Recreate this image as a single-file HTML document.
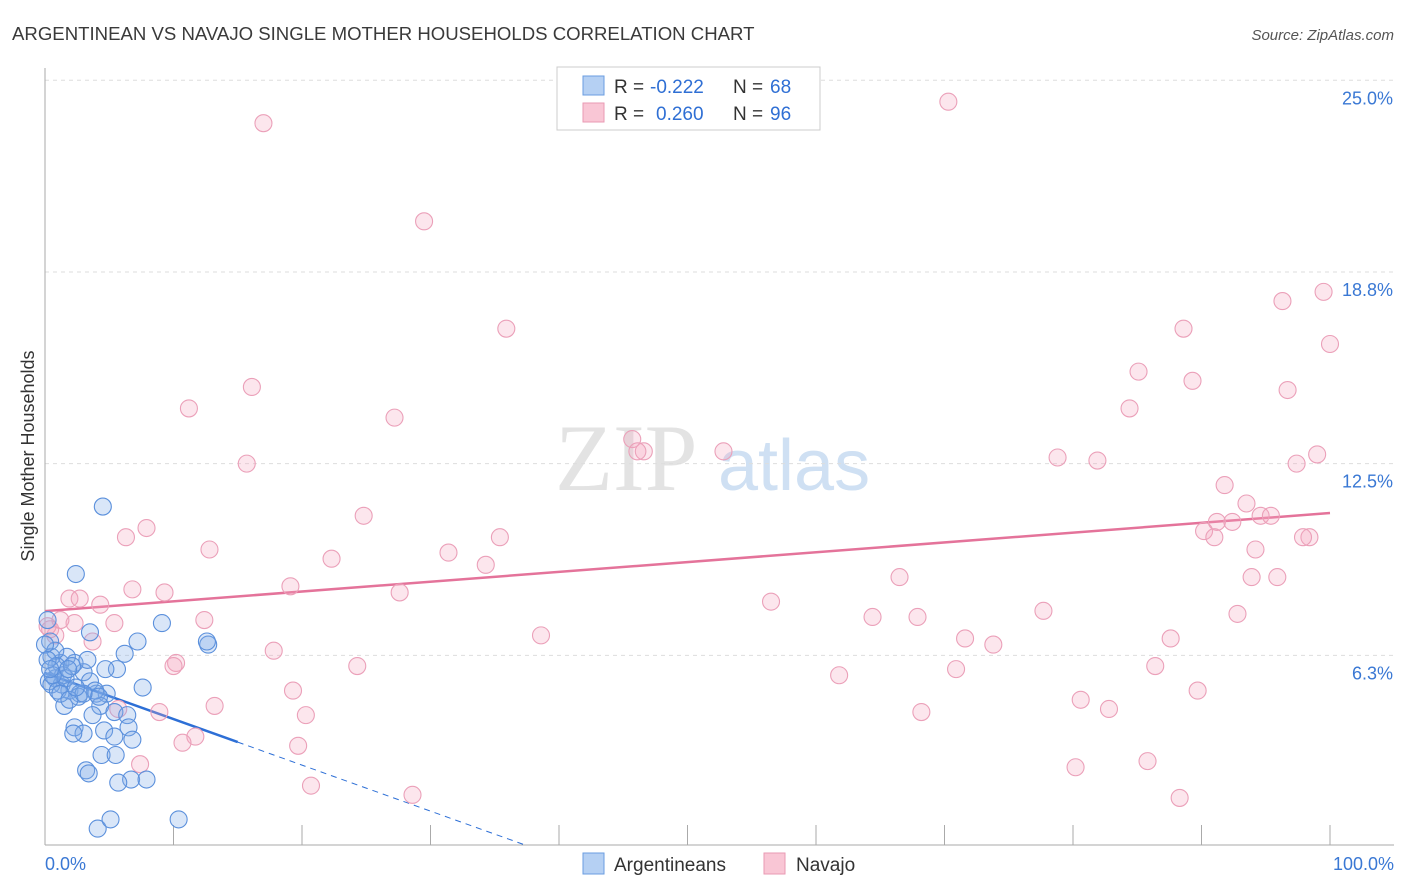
<!DOCTYPE html>
<html><head><meta charset="utf-8"><style>
body{margin:0;background:#fff;font-family:"Liberation Sans",sans-serif;}
svg{display:block}
</style></head><body>
<svg id="chart" width="1406" height="892">
<defs><clipPath id="pc"><rect x="45" y="60" width="1350" height="785"/></clipPath></defs>
<text x="12" y="40" font-size="18.6" fill="#3a3a3a">ARGENTINEAN VS NAVAJO SINGLE MOTHER HOUSEHOLDS CORRELATION CHART</text>
<text x="1394" y="40" font-size="15" fill="#555" font-style="italic" text-anchor="end">Source: ZipAtlas.com</text>
<g>
<text x="555" y="490" font-size="95" fill="#e3e3e3" font-family="Liberation Serif,serif">ZIP</text>
<text x="718" y="490" font-size="72" fill="#cfe0f3">atlas</text>
</g>
<g id="grid"></g><g id="axes"></g><g id="trend" clip-path="url(#pc)"></g><g id="points"></g>
<text transform="translate(34,456) rotate(-90)" font-size="18" fill="#333" text-anchor="middle">Single Mother Households</text>
<g>
<rect x="557" y="67" width="263" height="63" fill="#fff" stroke="#ccc"/>
<rect x="583" y="76" width="21" height="19" fill="#b5d0f3" stroke="#6a9de0"/>
<rect x="583" y="103" width="21" height="19" fill="#f9c6d5" stroke="#e99ab3"/>
<text x="614" y="93" font-size="19" fill="#333">R =</text>
<text x="650" y="93" font-size="19" fill="#2f6fd4">-0.222</text>
<text x="733" y="93" font-size="19" fill="#333">N =</text>
<text x="770" y="93" font-size="19" fill="#2f6fd4">68</text>
<text x="614" y="120" font-size="19" fill="#333">R =</text>
<text x="656" y="120" font-size="19" fill="#2f6fd4">0.260</text>
<text x="733" y="120" font-size="19" fill="#333">N =</text>
<text x="770" y="120" font-size="19" fill="#2f6fd4">96</text>
</g>
<g>
<rect x="583" y="853" width="21" height="21" fill="#b5d0f3" stroke="#6a9de0"/>
<text x="614" y="871" font-size="19" fill="#333">Argentineans</text>
<rect x="764" y="853" width="21" height="21" fill="#f9c6d5" stroke="#e99ab3"/>
<text x="796" y="871" font-size="19" fill="#333">Navajo</text>
</g>
</svg>
<script>
const yTicks=[6.25,12.5,18.75,25];
const yTickLabels=["6.3%","12.5%","18.8%","25.0%"];
const xTickLabels=["0.0%","100.0%"];
const blueX=[4.5,2.4,3.5,9.1,7.2,12.7,12.6,6.2,5.6,4.7,3.0,2.3,1.2,1.7,0.5,0.8,1.3,1.9,2.7,2.6,4.0,4.8,7.6,4.3,3.7,1.5,5.4,6.4,6.5,2.3,3.0,2.2,4.6,5.4,6.8,4.4,5.5,3.2,3.4,6.7,7.9,5.7,4.1,5.1,10.4,0.2,0.4,0.8,0.9,1.4,0.3,0.5,1.0,1.6,2.1,3.3,3.5,3.9,4.2,0,0.2,0.6,1.2,1.9,3.0,1.8,2.4,0.4];
const blueY=[11.1,8.9,7.0,7.3,6.7,6.6,6.7,6.3,5.8,5.8,5.7,6.0,6.0,6.2,6.2,5.5,5.3,5.1,5.0,4.9,5.0,5.0,5.2,4.6,4.3,4.6,4.4,4.3,3.9,3.9,3.7,3.7,3.8,3.6,3.5,3.0,3.0,2.5,2.4,2.2,2.2,2.1,0.6,0.9,0.9,7.4,6.7,6.4,5.9,5.6,5.4,5.3,5.1,5.5,5.9,6.1,5.4,5.1,4.9,6.6,6.1,5.6,5.0,4.8,5.0,5.8,5.2,5.8];
const pinkX=[17.0,70.3,29.5,35.9,99.5,96.3,88.6,100,85.1,89.3,16.1,96.7,11.2,27.2,84.4,45.7,46.6,46.1,52.8,78.8,81.9,15.7,99.0,97.4,91.8,93.5,94.6,95.4,24.8,7.9,35.4,91.2,92.4,90.2,91.0,6.3,12.8,31.4,94.2,98.4,97.9,22.3,34.3,66.5,93.9,95.9,6.8,9.3,19.1,27.6,1.9,2.7,4.3,56.5,77.7,12.4,64.4,67.9,92.8,2.3,1.2,5.4,38.6,71.6,73.8,87.6,0.8,3.7,17.8,10.2,10.0,24.3,70.9,61.8,86.4,19.3,89.7,80.6,13.2,20.3,68.2,82.8,8.9,5.7,11.7,10.7,19.7,7.4,80.2,85.8,20.7,28.6,88.3,0.4,0.2];
const pinkY=[23.6,24.3,20.4,16.9,18.1,17.8,16.9,16.4,15.5,15.2,15.0,14.9,14.3,14.0,14.3,13.3,12.9,12.9,12.9,12.7,12.6,12.5,12.8,12.5,11.8,11.2,10.8,10.8,10.8,10.4,10.1,10.6,10.6,10.3,10.1,10.1,9.7,9.6,9.7,10.1,10.1,9.4,9.2,8.8,8.8,8.8,8.4,8.3,8.5,8.3,8.1,8.1,7.9,8.0,7.7,7.4,7.5,7.5,7.6,7.3,7.4,7.3,6.9,6.8,6.6,6.8,6.9,6.7,6.4,6.0,5.9,5.9,5.8,5.6,5.9,5.1,5.1,4.8,4.6,4.3,4.4,4.5,4.4,4.5,3.6,3.4,3.3,2.7,2.6,2.8,2.0,1.7,1.6,7.1,7.2];
const pinkTrend=[7.69,10.89];
const blueTrend=[5.67,-0.15];
const NS="http://www.w3.org/2000/svg";
const X=v=>45+v*12.85, Y=v=>847-v*30.67;
function mk(tag,attrs,parent){const e=document.createElementNS(NS,tag);for(const k in attrs)e.setAttribute(k,attrs[k]);document.getElementById(parent).appendChild(e);return e;}
yTicks.forEach((t,i)=>{
 const l=mk('line',{x1:45,x2:1394,y1:Y(t),y2:Y(t),stroke:'#ddd','stroke-dasharray':'4,4'},'grid');
 
 
 const tx=mk('text',{x:1393,y:Y(t)+24,'font-size':18,fill:'#3a78d4','text-anchor':'end'},'grid');
 tx.textContent=yTickLabels[i];
 
 
});
const ax=mk('line',{x1:45,x2:45,y1:68,y2:845,stroke:'#aaa'},'axes');


const bx=mk('line',{x1:45,x2:1394,y1:845,y2:845,stroke:'#aaa'},'axes');


for(let i=0;i<=10;i++){const t=mk('line',{x1:X(i*10),x2:X(i*10),y1:825,y2:845,stroke:'#aaa'},'axes');
 
 }
[[0,'start',45],[100,'end',1394]].forEach((d,i)=>{const t=mk('text',{x:d[2],y:870,'font-size':18,fill:'#3a78d4','text-anchor':d[1]},'axes');t.textContent=xTickLabels[i];
 
 });
function dot(x,y,fill,stroke,name){const c=mk('circle',{cx:X(x),cy:Y(y),r:8.5,fill:fill,stroke:stroke,'stroke-width':1.1},'points');
 
 }
pinkX.forEach((x,i)=>dot(x,pinkY[i],'rgba(244,165,192,0.28)','#eba0b9','navajo-point'));
blueX.forEach((x,i)=>dot(x,blueY[i],'rgba(130,172,232,0.3)','#5b90dc','argentinean-point'));
const pl=mk('line',{x1:X(0),y1:Y(pinkTrend[0]),x2:X(100),y2:Y(pinkTrend[1]),stroke:'#e4739a','stroke-width':2.5},'trend');


const bl=mk('line',{x1:X(0),y1:Y(blueTrend[0]),x2:X(15),y2:Y(blueTrend[0]+15*blueTrend[1]),stroke:'#2d6fd6','stroke-width':2.5},'trend');


const bd=mk('line',{x1:X(15),y1:Y(blueTrend[0]+15*blueTrend[1]),x2:X(39),y2:Y(blueTrend[0]+39*blueTrend[1]),stroke:'#2d6fd6','stroke-width':1,'stroke-dasharray':'6,5'},'trend');


</script>
</body></html>
